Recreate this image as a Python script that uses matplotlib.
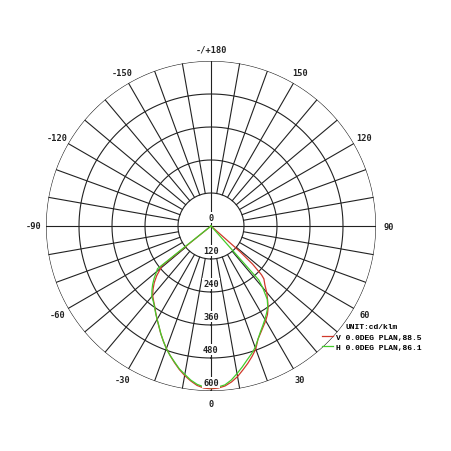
import numpy as np
import matplotlib
matplotlib.use("Agg")
import matplotlib.pyplot as plt
from matplotlib.lines import Line2D

# gamma angles (deg) and intensities (cd/klm)
v_angles = [-52, -51, -50, -47.5, -45, -42.5, -40, -37.5, -35, -32.5, -30,
            -27.5, -25, -22.5, -20, -17.5, -15, -12.5, -10, -7.5, -5, -2.5, 0,
            2.5, 5, 7.5, 10, 12.5, 15, 17.5, 20, 22.5, 25, 27.5, 30, 32.5,
            35, 37.5, 40, 42.5, 45, 46, 47.5, 48.5, 49.5]
v_values = [0, 230, 238, 268, 292, 312, 330, 343, 357, 374, 392,
            411, 432, 453, 474, 494, 514, 534, 552, 568, 582, 590, 592,
            590, 584, 572, 556, 536, 517, 497, 476, 446, 428, 412, 398, 382,
            362, 338, 315, 290, 272, 255, 205, 140, 0]

h_angles = [-53, -51.4, -50, -47.5, -45, -42.5, -40, -37.5, -35, -32.5, -30,
            -27.5, -25, -22.5, -20, -17.5, -15, -12.5, -10, -7.5, -5, -2.5, 0,
            2.5, 5, 7.5, 10, 12.5, 15, 17.5, 20, 22.5, 25, 27.5, 30, 32.5,
            35, 37.5, 40, 41.5, 41.8]
h_values = [0, 249, 258, 280, 300, 318, 335, 345, 358, 375, 392,
            410, 432, 453, 475, 494, 512, 532, 548, 565, 578, 586, 588,
            586, 580, 565, 545, 525, 505, 488, 470, 446, 425, 408, 392, 376,
            360, 336, 292, 262, 0]

ring_values = [120, 240, 360, 480, 600]
angle_ticks = [0, 30, 60, 90, 120, 150, 180, -150, -120, -90, -60, -30]
angle_labels = ["0", "30", "60", "90", "120", "150", "-/+180",
                "-150", "-120", "-90", "-60", "-30"]

legend_title = "UNIT:cd/klm"
v_label = "V 0.0DEG PLAN,88.5"
h_label = "H 0.0DEG PLAN,86.1"

fig = plt.figure(figsize=(4.52, 4.52), dpi=100)
ax = fig.add_axes([46 / 452, 60 / 452, 330 / 452, 330 / 452], projection="polar")
ax.set_theta_zero_location("S")
ax.set_theta_direction(1)
ax.set_ylim(0, 600)
ax.grid(False)
ax.set_xticks([])
ax.set_yticks([])
ax.spines["polar"].set_visible(False)

gc = "#222222"
glw = 0.8
full = np.linspace(0, 2 * np.pi, 361)
for r in ring_values:
    ax.plot(full, np.full_like(full, r), color=gc, lw=glw, zorder=1)
for a in range(0, 360, 10):
    t = np.deg2rad(a)
    r0 = 0 if a % 90 == 0 else ring_values[0]
    ax.plot([t, t], [r0, 600], color=gc, lw=glw, zorder=1)

v_color = "#d0392b"
h_color = "#44cc2a"
ax.plot(np.deg2rad(v_angles), v_values, color=v_color, lw=0.9, zorder=3)
ax.plot(np.deg2rad(h_angles), h_values, color=h_color, lw=0.9, zorder=4)

mono = "DejaVu Sans Mono"
for r in [0] + ring_values:
    ax.annotate(str(r), xy=(0, r), xytext=(0, 6), textcoords="offset points",
                ha="center", va="center", fontsize=6.2, family=mono,
                fontweight="bold", color="#222222", zorder=5,
                bbox=dict(boxstyle="square,pad=0.1", fc="white", ec="none"))

for a, lab in zip(angle_ticks, angle_labels):
    ax.text(np.deg2rad(a), 645, lab, ha="center", va="center", fontsize=6.2,
            family=mono, fontweight="bold", color="#222222", clip_on=False)

handles = [Line2D([], [], color=v_color, lw=0.9),
           Line2D([], [], color=h_color, lw=0.9)]
leg = fig.legend(handles, [v_label, h_label], title=legend_title,
                 loc="upper left", bbox_to_anchor=(0.712, 0.283),
                 frameon=False, handlelength=1.4, handletextpad=0.3,
                 labelspacing=0.35, borderpad=0, borderaxespad=0,
                 prop=dict(family="Liberation Mono", weight="bold", size=5.8),
                 title_fontproperties=dict(family="Liberation Mono",
                                           weight="bold", size=5.8))

fig.savefig("out.png", dpi=100, facecolor="white")
